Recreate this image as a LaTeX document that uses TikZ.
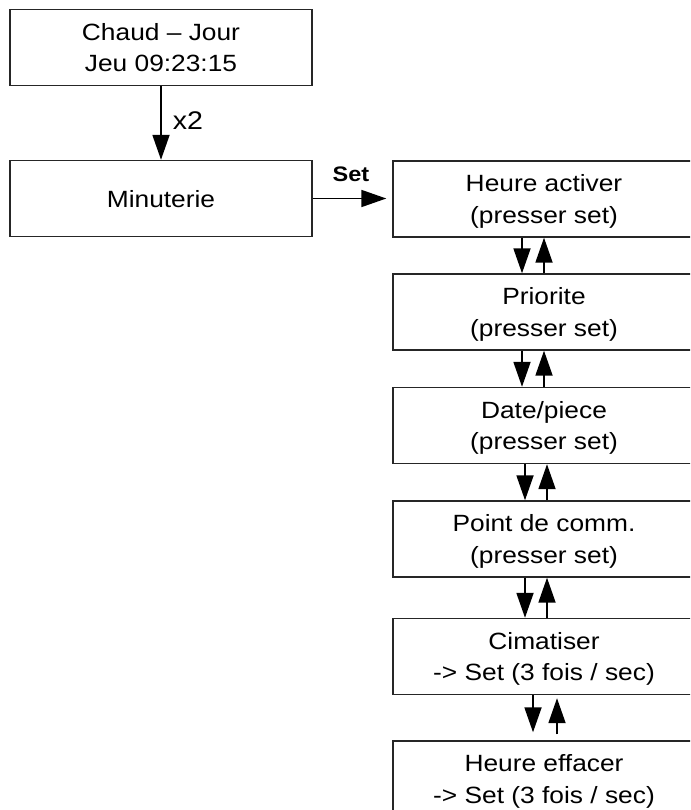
\documentclass[tikz,border=0pt]{standalone}
\usepackage{fontspec}
\setmainfont{Liberation Sans}[FakeStretch=1.12]
\usetikzlibrary{arrows.meta}
\begin{document}
\begin{tikzpicture}[x=1pt,y=-1pt,
  box/.style={draw=black!85, line width=1.4pt, minimum width=302pt,
    minimum height=76pt, inner sep=0pt, align=center, text depth=0pt,
    font=\fontsize{23.5}{31.5}\selectfont},
  link/.style={line width=1.8pt, -{Triangle[length=25pt,width=17pt]}},
  lbl/.style={inner sep=0pt}]
\useasboundingbox (0,0) rectangle (690,810);
\fill[white] (0,0) rectangle (690,810);
\clip (0,0) rectangle (690,810);

% left column
\node[box] (chaud) at (161,47.5) {Chaud – Jour\\Jeu 09:23:15};
\node[box] (minut) at (161,198.5) {Minuterie};

% menu column
\node[box] (hact)  at (544,199)   {Heure activer\\(presser set)};
\node[box] (prio)  at (544,312)   {Priorite\\(presser set)};
\node[box] (date)  at (544,425.5) {Date/piece\\(presser set)};
\node[box] (pcomm) at (544,539)   {Point de comm.\\(presser set)};
\node[box] (cima)  at (544,656.5) {Cimatiser\\-> Set (3 fois / sec)};
\node[box] (heff)  at (544,779)   {Heure effacer\\-> Set (3 fois / sec)};

% main screen to timer
\draw[link] (chaud) -- node[lbl, anchor=base west, xshift=11pt, yshift=-6.25pt,
  font=\fontsize{25.5}{25.5}\selectfont] (x2) {x2} (minut);

% timer to menu
\draw[link, shorten >=6pt] (minut.east) -- (minut.east -| hact.west)
  node[midway, lbl, anchor=base, xshift=-1.5pt, yshift=16.5pt,
  font=\bfseries\fontsize{21}{21}\selectfont] (setl) {Set};

% up/down navigation between menu entries
\foreach \a/\b/\d/\u in {hact/prio/-22/0, prio/date/-22/0, date/pcomm/-19/3, pcomm/cima/-19/3} {
  \draw[link] ([xshift=\d pt]\a.south) -- ([xshift=\d pt]\b.north);
  \draw[link] ([xshift=\u pt]\b.north) -- ([xshift=\u pt]\a.south);
}
\draw[link, shorten >=8pt] ([xshift=-11pt]cima.south) -- ([xshift=-11pt]heff.north);
\draw[link, shorten <=6pt, shorten >=3pt] ([xshift=13pt]heff.north) -- ([xshift=13pt]cima.south);
\end{tikzpicture}
\end{document}
